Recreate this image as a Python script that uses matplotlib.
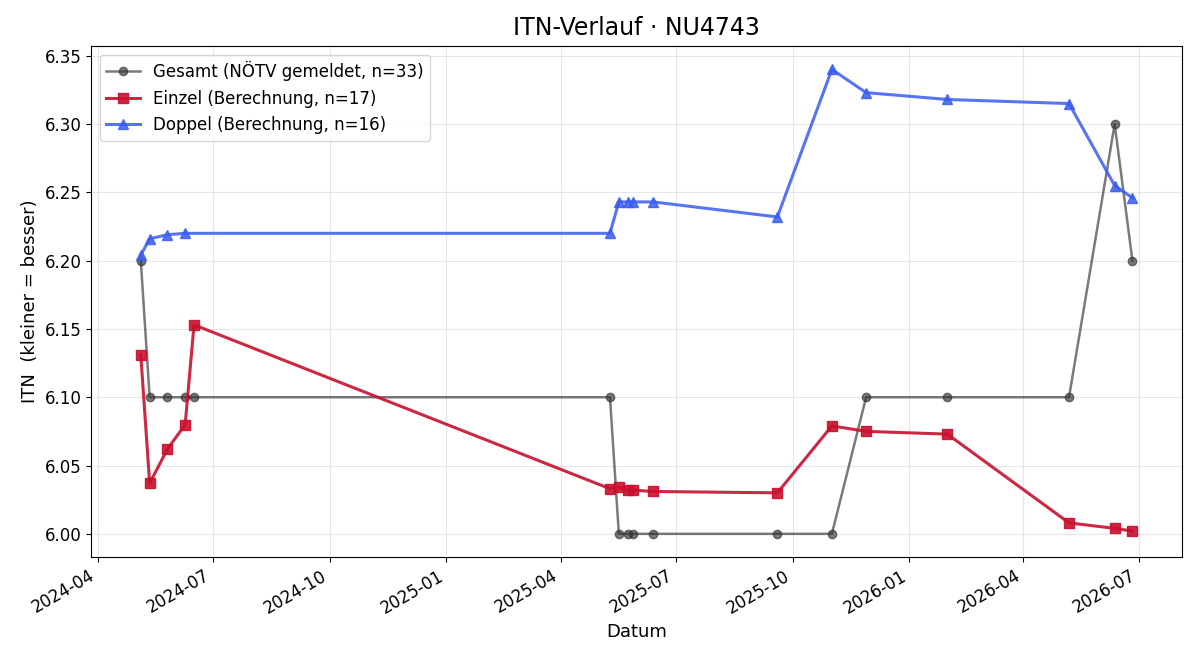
import matplotlib
matplotlib.use("Agg")
import matplotlib.pyplot as plt
import matplotlib.dates as mdates
import pandas as pd

# Gesamt (NÖTV gemeldet)
gesamt_dates = ["2024-05-05", "2024-05-12", "2024-05-26", "2024-06-09", "2024-06-16",
                "2025-05-10", "2025-05-17", "2025-05-24", "2025-05-28", "2025-06-13",
                "2025-09-19", "2025-11-01", "2025-11-28", "2026-01-31", "2026-05-07",
                "2026-06-12", "2026-06-26"]
gesamt_itn = [6.2, 6.1, 6.1, 6.1, 6.1,
              6.1, 6.0, 6.0, 6.0, 6.0,
              6.0, 6.0, 6.1, 6.1, 6.1,
              6.3, 6.2]

# Einzel (Berechnung)
einzel_dates = gesamt_dates
einzel_itn = [6.131, 6.037, 6.062, 6.080, 6.153,
              6.033, 6.034, 6.032, 6.032, 6.031,
              6.030, 6.079, 6.075, 6.073, 6.008,
              6.004, 6.002]

# Doppel (Berechnung)
doppel_dates = ["2024-05-05", "2024-05-12", "2024-05-26", "2024-06-09",
                "2025-05-10", "2025-05-17", "2025-05-24", "2025-05-28", "2025-06-13",
                "2025-09-19", "2025-11-01", "2025-11-28", "2026-01-31", "2026-05-07",
                "2026-06-12", "2026-06-26"]
doppel_itn = [6.204, 6.216, 6.219, 6.220,
              6.220, 6.243, 6.243, 6.243, 6.243,
              6.232, 6.340, 6.323, 6.318, 6.315,
              6.255, 6.246]

fig, ax = plt.subplots(figsize=(12, 6.6), dpi=100)

ax.plot(pd.to_datetime(gesamt_dates), gesamt_itn, color="#333333", alpha=0.65,
        marker="o", markersize=6, linewidth=1.8, label="Gesamt (NÖTV gemeldet, n=33)")
ax.plot(pd.to_datetime(einzel_dates), einzel_itn, color="#c8102e", alpha=0.9,
        marker="s", markersize=7, linewidth=2.2, label="Einzel (Berechnung, n=17)")
ax.plot(pd.to_datetime(doppel_dates), doppel_itn, color="#3a5cf0", alpha=0.85,
        marker="^", markersize=7, linewidth=2.2, label="Doppel (Berechnung, n=16)")

ax.set_title("ITN-Verlauf · NU4743", fontsize=17, pad=8)
ax.set_xlabel("Datum", fontsize=13)
ax.set_ylabel("ITN  (kleiner = besser)", fontsize=13)
ax.grid(True, alpha=0.3)
ax.legend(loc="upper left", fontsize=12)
ax.tick_params(labelsize=12)

ax.xaxis.set_major_locator(mdates.MonthLocator(bymonth=[1, 4, 7, 10]))
ax.xaxis.set_major_formatter(mdates.DateFormatter("%Y-%m"))
fig.autofmt_xdate()

fig.subplots_adjust(left=0.076, right=0.985, top=0.930, bottom=0.156)
fig.savefig("out.png")
